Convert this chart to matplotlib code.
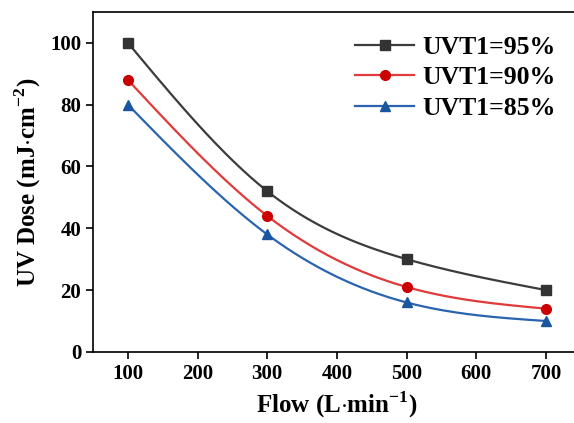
import numpy as np
import matplotlib.pyplot as plt

plt.rcParams['font.family'] = ['Liberation Serif', 'DejaVu Serif']
plt.rcParams['font.weight'] = 'bold'
plt.rcParams['axes.labelweight'] = 'bold'
plt.rcParams['mathtext.fontset'] = 'custom'
plt.rcParams['mathtext.rm'] = 'Liberation Serif:bold'
plt.rcParams['mathtext.bf'] = 'Liberation Serif:bold'

flow = [100, 300, 500, 700]
dose_95 = [100, 52, 30, 20]
dose_90 = [88, 44, 21, 14]
dose_85 = [80, 38, 16, 10]
labels = ['UVT1=95%', 'UVT1=90%', 'UVT1=85%']


def natural_spline(x, y, xs):
    x = np.asarray(x, float)
    y = np.asarray(y, float)
    n = len(x)
    h = np.diff(x)
    A = np.zeros((n, n))
    b = np.zeros(n)
    A[0, 0] = A[-1, -1] = 1
    for i in range(1, n - 1):
        A[i, i - 1] = h[i - 1]
        A[i, i] = 2 * (h[i - 1] + h[i])
        A[i, i + 1] = h[i]
        b[i] = 6 * ((y[i + 1] - y[i]) / h[i] - (y[i] - y[i - 1]) / h[i - 1])
    M = np.linalg.solve(A, b)
    out = np.zeros_like(xs)
    for k, xv in enumerate(xs):
        i = min(np.searchsorted(x, xv) - 1, n - 2)
        i = max(i, 0)
        t0 = x[i + 1] - xv
        t1 = xv - x[i]
        out[k] = (M[i] * t0 ** 3 + M[i + 1] * t1 ** 3) / (6 * h[i]) \
            + (y[i] / h[i] - M[i] * h[i] / 6) * t0 \
            + (y[i + 1] / h[i] - M[i + 1] * h[i] / 6) * t1
    return out


fig = plt.figure(figsize=(5.74, 4.23), dpi=100)
ax = fig.add_axes([0.162, 0.168, 0.850, 0.804])

series = [(dose_95, '#3c3c3c', '#333333', 's'),
          (dose_90, '#e03a3a', '#cc0000', 'o'),
          (dose_85, '#2a64b0', '#1a56a0', '^')]
xs = np.linspace(100, 700, 300)
for (vals, lc, mc, mk), lab in zip(series, labels):
    ax.plot(xs, natural_spline(flow, vals, xs), color=lc, lw=1.6)
    ax.plot(flow, vals, linestyle='none', marker=mk, color=mc, ms=7)
    ax.plot([], [], color=lc, lw=1.6, marker=mk, mfc=mc, mec=mc, ms=7, label=lab)

ax.set_xlim(50, 750)
ax.set_ylim(0, 110)
ax.set_xticks([100, 200, 300, 400, 500, 600, 700])
ax.set_yticks([0, 20, 40, 60, 80, 100])
ax.tick_params(direction='out', length=5, width=1.2, labelsize=15)
for s in ax.spines.values():
    s.set_linewidth(1.2)

ax.set_xlabel(r'Flow (L$\cdot$min$^{-1}$)', fontsize=18, fontweight='bold', labelpad=4)
ax.set_ylabel(r'UV Dose (mJ$\cdot$cm$^{-2}$)', fontsize=18, fontweight='bold', labelpad=5)

handles, labs = ax.get_legend_handles_labels()
ax.legend(handles, labs, loc='upper right', bbox_to_anchor=(0.995, 0.998), frameon=False,
          fontsize=18.5, handlelength=2.3, labelspacing=0.3, handletextpad=0.3)

fig.savefig('out.png', dpi=100)
